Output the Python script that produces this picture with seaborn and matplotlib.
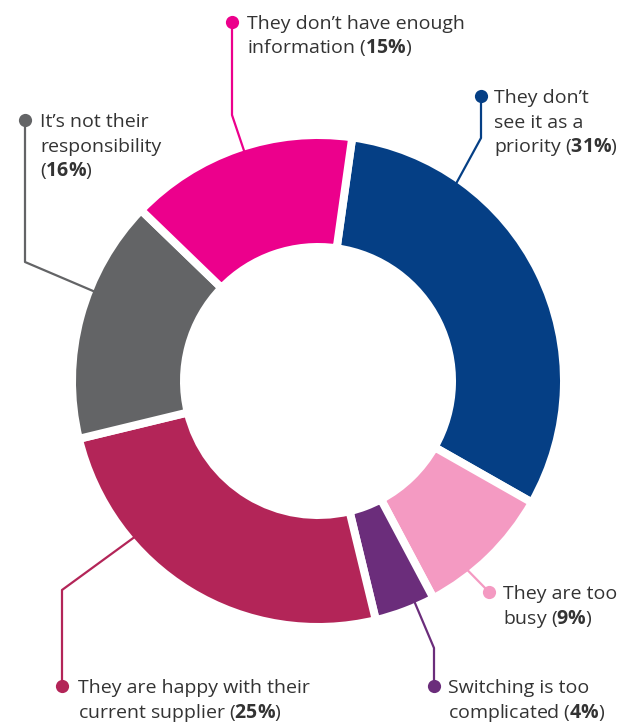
import numpy as np
import matplotlib
matplotlib.use("Agg")
import matplotlib.pyplot as plt
import seaborn as sns

# ---- data ----
categories = ["They don’t see it as a priority", "They are too busy",
              "Switching is too complicated",
              "They are happy with their current supplier",
              "It’s not their responsibility",
              "They don’t have enough information"]
values = [31, 9, 4, 25, 16, 15]
label_lines = [["They don’t", "see it as a", "priority ({})"],
               ["They are too", "busy ({})"],
               ["Switching is too", "complicated ({})"],
               ["They are happy with their", "current supplier ({})"],
               ["It’s not their", "responsibility", "({})"],
               ["They don’t have enough", "information ({})"]]
colors = ["#053F85", "#F49AC2", "#6B2D7B", "#B32558", "#636466", "#EC008C"]

sns.set_theme(style="white")
FAMILY = ['Open Sans', 'DejaVu Sans']
plt.rcParams['font.family'] = FAMILY
plt.rcParams['mathtext.fontset'] = 'custom'
plt.rcParams['mathtext.rm'] = 'Open Sans'
plt.rcParams['mathtext.bf'] = 'Open Sans:bold'

W, H = 620, 722
DPI = 100
fig = plt.figure(figsize=(W / DPI, H / DPI), dpi=DPI)
ax = fig.add_axes([0, 0, 1, 1])
ax.set_xlim(0, W)
ax.set_ylim(0, H)
ax.set_axis_off()

cx, cy = 318, H - 381
R_out, R_in = 242, 138
gap = 8  # px
lw_pt = gap * 0.72
ax.pie(values, colors=colors, startangle=82, counterclock=False,
       center=(cx, cy), radius=R_out + gap / 2,
       wedgeprops=dict(width=R_out - R_in + gap, edgecolor="white",
                       linewidth=lw_pt))
ax.set_xlim(0, W)
ax.set_ylim(0, H)
ax.set_aspect("auto")

# ---- labels layout (pixels from top-left) ----
layout = [
    dict(dot=(481, 96), elbow=(481, 138), ang=35, tx=494, ty=96),
    dict(dot=(489, 592), elbow=None, ang=141.7, tx=503, ty=592),
    dict(dot=(434, 686), elbow=(434, 648), ang=156.4, tx=448, ty=686),
    dict(dot=(62, 686), elbow=(62, 590), ang=229.6, tx=78, ty=686),
    dict(dot=(25, 120), elbow=(25, 262), ang=291.8, tx=40, ty=120),
    dict(dot=(232, 22), elbow=(232, 115), ang=342.2, tx=247, ty=22),
]
line_gap = 24.5
fs = 14.0
txt_color = "#333333"

for val, col, lines, L in zip(values, colors, label_lines, layout):
    a = np.deg2rad(L["ang"])
    ax_, ay_ = cx + (R_out - 2) * np.sin(a), cy + (R_out - 2) * np.cos(a)
    pts = [(L["dot"][0], H - L["dot"][1])]
    if L["elbow"] is not None:
        pts.append((L["elbow"][0], H - L["elbow"][1]))
    pts.append((ax_, ay_))
    xs, ys = zip(*pts)
    ax.plot(xs, ys, color=col, lw=1.6, solid_capstyle="butt", zorder=3)
    ax.plot([xs[0]], [ys[0]], "o", color=col, ms=9.5, mec="none", zorder=4)
    for i, ln in enumerate(lines):
        yb = H - (L["ty"] + i * line_gap) - 7
        if "{}" in ln:
            ln = ln.replace("{}", r"$\mathbf{" + str(val) + r"\%}$")
        ax.text(L["tx"], yb, ln, fontsize=fs, color=txt_color,
                va="baseline", ha="left")

fig.savefig("out.png", dpi=DPI, facecolor="white")
